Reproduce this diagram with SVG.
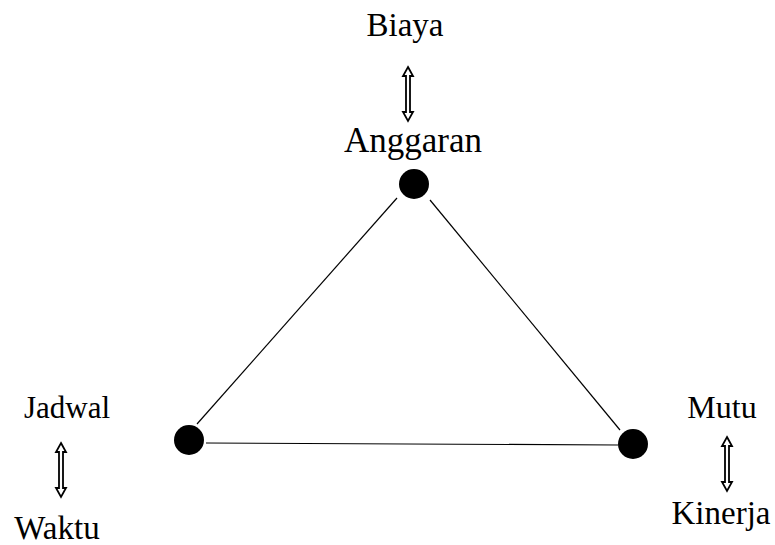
<svg xmlns="http://www.w3.org/2000/svg" width="775" height="545" viewBox="0 0 775 545">
<style>
.lbl{font-family:"Liberation Serif","Times New Roman",serif;font-size:33px;fill:#000;text-anchor:middle}
.node{fill:#000}
.edge{stroke:#000;stroke-width:1.2;fill:none}
.darr{fill:#fff;stroke:#000;stroke-width:1.8;stroke-linejoin:miter}
</style>
<defs>
<path id="dbl" d="M0,0 L5,9 L2,9 L2,45 L5,45 L0,54 L-5,45 L-2,45 L-2,9 L-5,9 Z"/>
</defs>
<rect width="775" height="545" fill="#fff"/>
<g id="connectors">
<line class="edge" x1="397" y1="198" x2="197" y2="424"/>
<line class="edge" x1="430" y1="200" x2="620" y2="430"/>
<line class="edge" x1="206" y1="443" x2="618" y2="445"/>
</g>
<g id="anggaran">
<circle class="node" cx="414" cy="184" r="15"/>
<text class="lbl" x="413" y="152" style="font-size:35px">Anggaran</text>
</g>
<g id="biaya">
<text class="lbl" x="405" y="36">Biaya</text>
<use href="#dbl" class="darr" x="408" y="67"/>
</g>
<g id="jadwal">
<circle class="node" cx="189" cy="440" r="15"/>
<text class="lbl" x="67" y="418" style="font-size:31px">Jadwal</text>
<use href="#dbl" class="darr" x="61" y="443"/>
</g>
<g id="waktu">
<text class="lbl" x="57" y="539">Waktu</text>
</g>
<g id="mutu">
<circle class="node" cx="633" cy="444" r="15"/>
<text class="lbl" x="722" y="418" style="font-size:32px">Mutu</text>
<use href="#dbl" class="darr" x="727" y="437"/>
</g>
<g id="kinerja">
<text class="lbl" x="721" y="524">Kinerja</text>
</g>
</svg>
